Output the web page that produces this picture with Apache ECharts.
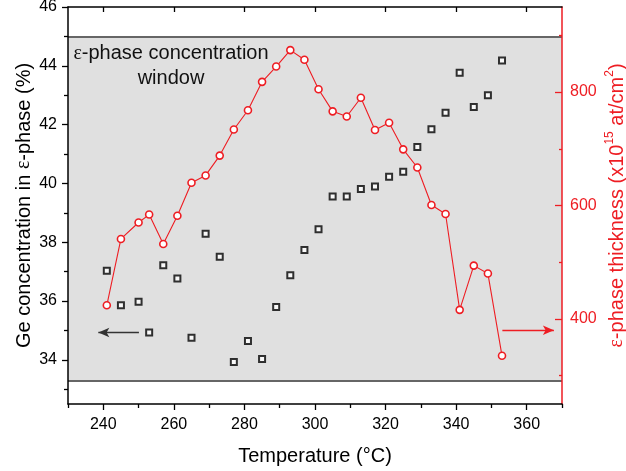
<!DOCTYPE html>
<html>
<head>
<meta charset="utf-8">
<script src="https://cdn.jsdelivr.net/npm/echarts@6/dist/echarts.min.js"></script>
<style>html,body{margin:0;padding:0;background:#fff;}#c{width:626px;height:471px;}</style>
</head>
<body>
<div id="c"></div>
<script>
// ---- data ----
const temperature = [241,245,250,253,257,261,265,269,273,277,281,285,289,293,297,301,305,309,313,317,321,325,329,333,337,341,345,349,353];
const geConcentration = [37.03,35.86,35.98,34.93,37.22,36.77,34.75,38.29,37.51,33.93,34.64,34.03,35.80,36.88,37.74,38.44,39.56,39.56,39.81,39.90,40.23,40.40,41.24,41.84,42.40,43.76,42.60,43.00,44.18];
const thickness = [424,541,570,584,532,582,640,653,688,734,768,818,845,874,857,805,766,757,790,733,746,699,667,601,585,416,494,480,335];
const windowBounds = [33.3, 45];           // Ge % concentration window
const leftArrow = [[250.1, 34.93], [238.6, 34.93]];   // points to left axis
const rightArrow = [[353.1, 380], [367.7, 380]];      // points to right axis
// ticks
const xMajor = [240,260,280,300,320,340,360];
const xMinor = [230,250,270,290,310,330,350,370];
const geMajor = [34,36,38,40,42,44,46];
const geMinor = [33,35,37,39,41,43,45];
const thickMajor = [400,600,800];
const thickMinor = [300,500,700,900];
const xRange = [230, 370];
const geRange = [32.5, 46];
const thickRange = [250, 950];

const RED = '#ee1d23';
const FONT = 'Liberation Sans, Arial, sans-serif';

const chart = echarts.init(document.getElementById('c'), null, {renderer: 'canvas'});

function xAx(pos, ticks, opts) {
  return Object.assign({
    type: 'value', min: xRange[0], max: xRange[1], position: pos, z: 10,
    axisLine: {show: false, onZero: false},
    axisTick: {show: true, customValues: ticks, length: 6, lineStyle: {color: '#000', width: 1.3}},
    axisLabel: {show: false},
    splitLine: {show: false}
  }, opts || {});
}
function yAx(pos, range, ticks, opts) {
  return Object.assign({
    type: 'value', min: range[0], max: range[1], position: pos, z: 10,
    axisLine: {show: false, onZero: false},
    axisTick: {show: true, customValues: ticks, length: 6, lineStyle: {color: '#000', width: 1.3}},
    axisLabel: {show: false},
    splitLine: {show: false}
  }, opts || {});
}

const option = {
  animation: false,
  backgroundColor: '#fff',
  textStyle: {fontFamily: FONT},
  grid: {left: 68, right: 64, top: 7, bottom: 67, containLabel: false, outerBoundsMode: 'none'},
  xAxis: [
    xAx('bottom', xMajor, {
      axisLine: {show: true, onZero: false, lineStyle: {color: '#000', width: 1.5}},
      axisLabel: {show: true, customValues: xMajor, fontSize: 16, color: '#000', margin: 13, fontFamily: FONT},
      name: 'Temperature (°C)', nameLocation: 'middle', nameGap: 42, nameMoveOverlap: false,
      nameTextStyle: {fontSize: 20, color: '#000', fontFamily: FONT}
    }),
    xAx('bottom', xMinor, {axisTick: {show: true, customValues: xMinor, length: 4, lineStyle: {color: '#000', width: 1.3}}}),
    xAx('top', xMajor, {
      axisLine: {show: true, onZero: false, lineStyle: {color: '#000', width: 1.5}},
      axisTick: {show: true, inside: true, customValues: xMajor, length: 5, lineStyle: {color: '#000', width: 1.3}}
    })
  ],
  yAxis: [
    yAx('left', geRange, geMajor, {
      axisLine: {show: true, onZero: false, lineStyle: {color: '#000', width: 1.5}},
      axisLabel: {show: true, customValues: geMajor, fontSize: 16, color: '#000', margin: 11, fontFamily: FONT},
      name: 'Ge concentration in {e|ε}-phase (%)', nameLocation: 'middle', nameGap: 34, nameRotate: 90,
      nameMoveOverlap: false,
      nameTextStyle: {fontSize: 20, color: '#000', fontFamily: FONT,
        rich: {e: {fontSize: 20, color: '#000', fontFamily: 'Liberation Serif, serif'}}}
    }),
    yAx('left', geRange, geMinor, {axisTick: {show: true, customValues: geMinor, length: 4, lineStyle: {color: '#000', width: 1.3}}}),
    yAx('right', thickRange, thickMajor, {
      axisLine: {show: true, onZero: false, lineStyle: {color: RED, width: 1.5}},
      axisTick: {show: true, inside: true, customValues: thickMajor, length: 7, lineStyle: {color: RED, width: 1.3}},
      axisLabel: {show: true, customValues: thickMajor, fontSize: 16, color: RED, margin: 8, fontFamily: FONT},
      name: '{e|ε}-phase thickness (x10{sup|15} at/cm{sup|2})', nameLocation: 'middle', nameGap: 42, nameRotate: 90,
      nameMoveOverlap: false,
      nameTextStyle: {fontSize: 20, color: RED, fontFamily: FONT, lineHeight: 26,
        rich: {
          e: {fontSize: 20, color: RED, fontFamily: 'Liberation Serif, serif', lineHeight: 26},
          sup: {fontSize: 12, color: RED, fontFamily: FONT, verticalAlign: 'top', lineHeight: 12}
        }}
    }),
    yAx('right', thickRange, thickMinor, {axisTick: {show: true, inside: true, customValues: thickMinor, length: 3, lineStyle: {color: RED, width: 1.3}}})
  ],
  graphic: [{
    type: 'text', x: 171, y: 41, z: 5,
    style: {
      text: '{e|ε}-phase concentration\nwindow',
      x: 0, y: 0, align: 'center', textAlign: 'center', verticalAlign: 'top',
      fill: '#111', fontSize: 20, fontFamily: FONT, lineHeight: 25,
      rich: {e: {fontSize: 20, fontFamily: 'Liberation Serif, serif', fill: '#111'}}
    }
  }],
  series: [
    {
      type: 'scatter', name: 'window', xAxisIndex: 0, yAxisIndex: 0, data: [], z: 1, silent: true,
      markArea: {
        silent: true,
        itemStyle: {color: '#e0e0e0'},
        data: [[{yAxis: windowBounds[0]}, {yAxis: windowBounds[1]}]]
      },
      markLine: {
        silent: true, symbol: 'none',
        lineStyle: {color: '#666', width: 2, type: 'solid'},
        label: {show: false},
        data: windowBounds.map(v => ({yAxis: v}))
      }
    },
    {
      type: 'scatter', name: 'Ge', xAxisIndex: 0, yAxisIndex: 0, z: 4,
      data: temperature.map((t, i) => [t, geConcentration[i]]),
      symbol: 'rect', symbolSize: 6,
      itemStyle: {color: '#fff', borderColor: '#000', borderWidth: 2},
      markLine: {
        silent: true, symbol: ['none', 'arrow'], symbolSize: [7, 11],
        lineStyle: {color: '#333', width: 1.3, type: 'solid'},
        label: {show: false},
        data: [[{coord: leftArrow[0]}, {coord: leftArrow[1]}]]
      }
    },
    {
      type: 'line', name: 'thickness', xAxisIndex: 0, yAxisIndex: 2, z: 3,
      data: temperature.map((t, i) => [t, thickness[i]]),
      symbol: 'circle', symbolSize: 7, showSymbol: true,
      lineStyle: {color: RED, width: 1.1},
      itemStyle: {color: '#fff', borderColor: RED, borderWidth: 1.6},
      markLine: {
        silent: true, symbol: ['none', 'arrow'], symbolSize: [7, 11],
        lineStyle: {color: RED, width: 1.3, type: 'solid'},
        label: {show: false},
        data: [[{coord: rightArrow[0]}, {coord: rightArrow[1]}]]
      }
    }
  ]
};
chart.setOption(option);
</script>
</body>
</html>
